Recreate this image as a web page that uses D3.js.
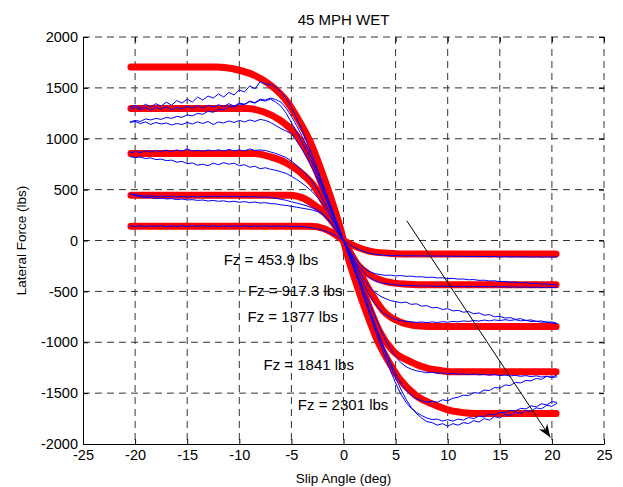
<!DOCTYPE html>
<html>
<head>
	<meta charset="utf-8">
	<script src="https://d3js.org/d3.v7.min.js"></script>
	<title>45 MPH WET</title>
	<style>
		body { margin: 0; background: #fff; font-family: "Liberation Sans", Arial, sans-serif; }
	</style>
</head>
<body>
	<div id="chart"></div>
	<script>
		// tick values
		const xTicks = [-25, -20, -15, -10, -5, 0, 5, 10, 15, 20, 25];
		const yTicks = [-2000, -1500, -1000, -500, 0, 500, 1000, 1500, 2000];

		// slip angle samples (deg) shared by the measured runs
		const slipGrid = [
			-20.5,-20,-19.5,-19,-18.5,-18,-17.5,-17,-16.5,-16,
			-15.5,-15,-14.5,-14,-13.5,-13,-12.5,-12,-11.5,-11,
			-10.5,-10,-9.5,-9,-8.5,-8,-7.5,-7,-6.5,-6,
			-5.5,-5,-4.5,-4,-3.5,-3,-2.5,-2,-1.5,-1,
			-0.5,0,
			0.5,1,1.5,2,2.5,3,3.5,4,4.5,5,
			5.5,6,6.5,7,7.5,8,8.5,9,9.5,10,
			10.5,11,11.5,12,12.5,13,13.5,14,14.5,15,
			15.5,16,16.5,17,17.5,18,18.5,19,19.5,20,
			20.5
		];

		// measured lateral force (lbs), blue runs
		const run2301a = [
			1310,1330,1300,1340,1310,1345,1320,1360,1330,1375,
			1350,1390,1360,1410,1380,1420,1400,1440,1410,1455,
			1430,1480,1460,1520,1490,1560,1540,1530,1510,1460,
			1400,1310,1200,1090,960,840,700,560,420,280,
			140,10,
			-130,-270,-410,-560,-700,-840,-970,-1100,-1230,-1350,
			-1460,-1560,-1640,-1700,-1745,-1780,-1790,-1815,-1800,-1825,
			-1800,-1815,-1790,-1800,-1770,-1785,-1750,-1765,-1730,-1745,
			-1710,-1720,-1690,-1700,-1670,-1680,-1645,-1655,-1620,-1630,
			-1600
		];
		const run2301b = [
			1290,1310,1285,1305,1280,1310,1290,1315,1285,1310,
			1295,1320,1300,1325,1300,1330,1310,1335,1315,1345,
			1320,1350,1340,1370,1355,1390,1380,1400,1385,1360,
			1300,1220,1130,1030,920,800,670,540,400,265,
			130,-5,
			-140,-280,-420,-570,-720,-870,-1010,-1150,-1280,-1400,
			-1510,-1590,-1650,-1690,-1720,-1745,-1760,-1755,-1775,-1760,
			-1775,-1755,-1765,-1740,-1750,-1725,-1735,-1705,-1715,-1690,
			-1695,-1670,-1675,-1650,-1655,-1625,-1635,-1605,-1615,-1585,
			-1590
		];
		const run1841a = [
			1165,1180,1170,1195,1185,1200,1190,1210,1200,1220,
			1210,1235,1225,1250,1240,1270,1260,1290,1285,1320,
			1310,1340,1335,1365,1350,1380,1370,1390,1360,1320,
			1250,1160,1070,970,870,760,640,515,385,255,
			125,-5,
			-135,-270,-400,-540,-680,-820,-950,-1080,-1200,-1310,
			-1400,-1470,-1520,-1555,-1575,-1590,-1580,-1590,-1565,-1575,
			-1550,-1540,-1520,-1525,-1495,-1500,-1470,-1475,-1445,-1450,
			-1420,-1425,-1395,-1400,-1375,-1380,-1355,-1365,-1335,-1345,
			-1320
		];
		const run1841b = [
			1160,1170,1150,1165,1140,1160,1145,1155,1135,1150,
			1140,1160,1145,1165,1150,1170,1140,1165,1155,1175,
			1160,1180,1165,1185,1170,1190,1180,1160,1130,1100,
			1075,1050,980,900,810,710,600,480,360,240,
			120,0,
			-125,-250,-375,-500,-620,-740,-860,-970,-1060,-1140,
			-1200,-1240,-1265,-1280,-1290,-1300,-1295,-1305,-1300,-1312,
			-1305,-1315,-1310,-1318,-1312,-1320,-1315,-1325,-1318,-1328,
			-1322,-1332,-1325,-1335,-1328,-1338,-1330,-1342,-1335,-1345,
			-1340
		];
		const run1377a = [
			860,875,865,880,870,885,872,888,876,890,
			878,900,880,886,876,890,880,892,878,895,
			882,890,880,900,885,890,885,870,855,835,
			815,780,740,695,640,580,500,410,310,210,
			105,0,
			-100,-200,-295,-385,-460,-510,-545,-570,-590,-600,
			-612,-605,-628,-622,-645,-640,-662,-658,-678,-670,
			-692,-686,-705,-698,-720,-712,-735,-728,-750,-745,
			-762,-758,-775,-768,-786,-780,-796,-790,-805,-800,
			-816
		];
		const run1377b = [
			825,815,820,805,812,795,800,785,790,770,
			778,755,762,740,750,735,760,745,765,750,
			760,735,745,720,730,705,715,700,690,675,
			660,630,600,565,525,480,425,360,280,190,
			95,0,
			-110,-220,-330,-440,-540,-620,-680,-725,-755,-775,
			-788,-795,-800,-805,-800,-808,-800,-806,-798,-803,
			-795,-800,-790,-796,-786,-792,-782,-790,-780,-788,
			-778,-786,-778,-790,-784,-796,-792,-804,-800,-812,
			-816
		];
		const run917a = [
			460,450,442,435,440,432,438,430,436,428,
			434,425,432,426,434,428,436,430,438,430,
			436,428,434,426,432,425,430,420,415,405,
			395,380,368,355,340,320,300,265,215,150,
			75,0,
			-80,-160,-225,-275,-305,-325,-335,-342,-340,-348,
			-345,-352,-350,-358,-356,-363,-360,-368,-366,-374,
			-372,-380,-378,-386,-384,-392,-390,-398,-396,-405,
			-403,-410,-408,-416,-414,-422,-420,-428,-426,-434,
			-438
		];
		const run917b = [
			462,440,430,420,425,412,418,408,412,402,
			408,398,402,394,398,388,394,385,390,380,
			386,376,382,372,378,368,372,362,360,350,
			345,335,328,318,310,300,285,255,205,145,
			72,0,
			-90,-185,-260,-320,-365,-395,-412,-422,-428,-435,
			-440,-446,-442,-448,-444,-450,-446,-452,-447,-453,
			-448,-454,-449,-455,-450,-456,-451,-457,-452,-458,
			-453,-459,-454,-460,-455,-461,-456,-462,-457,-463,
			-458
		];
		const run454 = [
			145,138,146,137,145,139,147,136,144,138,
			146,137,145,139,147,138,145,137,146,139,
			145,138,146,137,144,139,146,138,145,137,
			144,138,140,136,132,125,115,100,82,60,
			32,0,
			-35,-65,-90,-110,-125,-135,-142,-146,-148,-150,
			-148,-152,-149,-153,-150,-154,-151,-155,-152,-156,
			-153,-157,-154,-158,-155,-159,-156,-160,-157,-161,
			-158,-161,-159,-162,-160,-163,-160,-164,-161,-163,
			-162
		];

		// fitted model curves (red), [slip angle, lateral force]
		const fit2301 = [[-20.4,1705],[-12.2,1705],[-10.2,1678],[-8.6,1625],[-7.0,1527],[-5.4,1363],[-4.2,1166],[-3.2,970],[-2.2,708],[-1.3,445],[-0.3,118],[0,0],[0.3,-118],[1.3,-445],[2.2,-708],[3.2,-970],[4.2,-1166],[5.4,-1363],[7.0,-1527],[8.6,-1610],[10.2,-1670],[11.8,-1695],[12.6,-1700],[20.4,-1700]];
		const fit1841 = [[-20.4,1298],[-9.3,1298],[-7.7,1265],[-6.1,1183],[-4.8,1068],[-3.5,871],[-2.55,675],[-1.6,413],[-0.63,150],[0,0],[0.63,-150],[1.6,-413],[2.55,-675],[3.5,-900],[4.8,-1090],[6.4,-1190],[8.0,-1255],[9.6,-1282],[10.4,-1290],[20.4,-1290]];
		const fit1377 = [[-20.4,855],[-8.6,855],[-7.0,822],[-5.4,757],[-4.2,675],[-2.9,544],[-1.9,380],[-0.96,183],[0,0],[0.96,-183],[1.9,-380],[2.9,-560],[3.8,-690],[5.4,-800],[6.5,-830],[7.7,-843],[8.5,-845],[20.4,-845]];
		const fit917 = [[-20.4,445],[-5.1,445],[-3.8,413],[-2.55,330],[-1.6,249],[-0.63,118],[0,0],[0.7,-130],[1.28,-226],[2.56,-341],[4.16,-407],[6.08,-430],[7.0,-435],[20.4,-435]];
		const fit454 = [[-20.4,140],[-3.2,140],[-1.9,118],[-0.96,69],[0,0],[1.28,-63],[2.88,-112],[4.8,-128],[5.5,-132],[20.4,-132]];

		// load labels: text and [slip angle, force] of left edge
		const loadLabels = ["Fz = 453.9 lbs", "Fz = 917.3 lbs", "Fz = 1377 lbs", "Fz = 1841 lbs", "Fz = 2301 lbs"];
		const labelPos = [[-11.5, -194], [-9.17, -496], [-9.21, -751], [-7.68, -1226], [-4.38, -1613]];

		// arrow showing increasing load
		const arrowEnds = [[6.08, 193], [19.84, -1934]];

		const margin = { top: 37, right: 19, bottom: 43, left: 83 },
			width = 623 - margin.left - margin.right,
			height = 487 - margin.top - margin.bottom;

		const root = d3.select("#chart").append("svg")
			.attr("width", 623)
			.attr("height", 487);

		const svg = root.append("g")
			.attr("transform", `translate(${margin.left},${margin.top})`);

		const x = d3.scaleLinear().domain([-25, 25]).range([0, width]);
		const y = d3.scaleLinear().domain([-2000, 2000]).range([height, 0]);

		// dashed grid
		svg.append("g").selectAll("line")
			.data(xTicks.slice(1))
			.join("line")
			.attr("x1", d => x(d)).attr("x2", d => x(d))
			.attr("y1", 0).attr("y2", height)
			.attr("stroke", "#333").attr("stroke-dasharray", "7,5");
		svg.append("g").selectAll("line")
			.data(yTicks.slice(1))
			.join("line")
			.attr("x1", 0).attr("x2", width)
			.attr("y1", d => y(d)).attr("y2", d => y(d))
			.attr("stroke", "#333").attr("stroke-dasharray", "7,5");

		// axes, ticks pointing inward, plain hyphen minus labels
		const plain = d => String(d);
		svg.append("g")
			.attr("transform", `translate(0,${height})`)
			.call(d3.axisBottom(x).tickValues(xTicks).tickFormat(plain).tickSizeInner(-5).tickSizeOuter(0).tickPadding(6));
		svg.append("g")
			.call(d3.axisLeft(y).tickValues(yTicks).tickFormat(plain).tickSizeInner(-5).tickSizeOuter(0).tickPadding(5));
		svg.append("g")
			.call(d3.axisTop(x).tickValues(xTicks).tickSizeInner(-5).tickSizeOuter(0).tickFormat(""))
			.call(g => g.select(".domain").remove());
		svg.append("g")
			.attr("transform", `translate(${width},0)`)
			.call(d3.axisRight(y).tickValues(yTicks).tickSizeInner(-5).tickSizeOuter(0).tickFormat(""))
			.call(g => g.select(".domain").remove());

		root.selectAll(".tick text")
			.attr("font-family", "'Liberation Sans', Arial, sans-serif")
			.attr("font-size", "14.5px")
			.attr("fill", "#000");
		root.selectAll(".tick line").attr("stroke", "#000");
		root.selectAll(".domain").attr("stroke", "#000");

		// fitted curves
		const redLine = d3.line()
			.x(d => x(d[0]))
			.y(d => y(d[1]))
			.curve(d3.curveMonotoneX);

		svg.append("g").selectAll("path")
			.data([fit454, fit917, fit1377, fit1841, fit2301])
			.join("path")
			.attr("d", redLine)
			.attr("fill", "none")
			.attr("stroke", "#ff0000")
			.attr("stroke-width", 7)
			.attr("stroke-linecap", "round")
			.attr("stroke-linejoin", "round");

		// measured runs
		const blueLine = d3.line()
			.x((d, i) => x(slipGrid[i]))
			.y(d => y(d));

		svg.append("g").selectAll("path")
			.data([run454, run917a, run917b, run1377a, run1377b, run1841a, run1841b, run2301a, run2301b])
			.join("path")
			.attr("d", blueLine)
			.attr("fill", "none")
			.attr("stroke", "#0000ff")
			.attr("stroke-width", 1);

		// arrow
		root.append("defs").append("marker")
			.attr("id", "head")
			.attr("viewBox", "-14 -6 15 12")
			.attr("refX", 0).attr("refY", 0)
			.attr("markerWidth", 15).attr("markerHeight", 12)
			.attr("markerUnits", "userSpaceOnUse")
			.attr("orient", "auto")
			.append("path")
			.attr("d", "M0,0 L-13,-5 L-9,0 L-13,5 Z")
			.attr("fill", "#000");

		svg.append("line")
			.attr("x1", x(arrowEnds[0][0])).attr("y1", y(arrowEnds[0][1]))
			.attr("x2", x(arrowEnds[1][0])).attr("y2", y(arrowEnds[1][1]))
			.attr("stroke", "#000")
			.attr("stroke-width", 1)
			.attr("marker-end", "url(#head)");

		// load labels
		svg.append("g").selectAll("text")
			.data(loadLabels)
			.join("text")
			.attr("x", (d, i) => x(labelPos[i][0]))
			.attr("y", (d, i) => y(labelPos[i][1]))
			.attr("dy", "0.35em")
			.attr("font-size", "15px")
			.attr("fill", "#000")
			.text(d => d);

		// title and axis labels
		root.append("text")
			.attr("x", margin.left + width / 2)
			.attr("y", 25)
			.attr("text-anchor", "middle")
			.attr("font-size", "15px")
			.text("45 MPH WET");

		root.append("text")
			.attr("x", margin.left + width / 2)
			.attr("y", 483)
			.attr("text-anchor", "middle")
			.attr("font-size", "13.5px")
			.text("Slip Angle (deg)");

		root.append("text")
			.attr("transform", `translate(21,${margin.top + height / 2}) rotate(-90)`)
			.attr("dy", "0.35em")
			.attr("text-anchor", "middle")
			.attr("font-size", "13.5px")
			.text("Lateral Force (lbs)");
	</script>
</body>
</html>
